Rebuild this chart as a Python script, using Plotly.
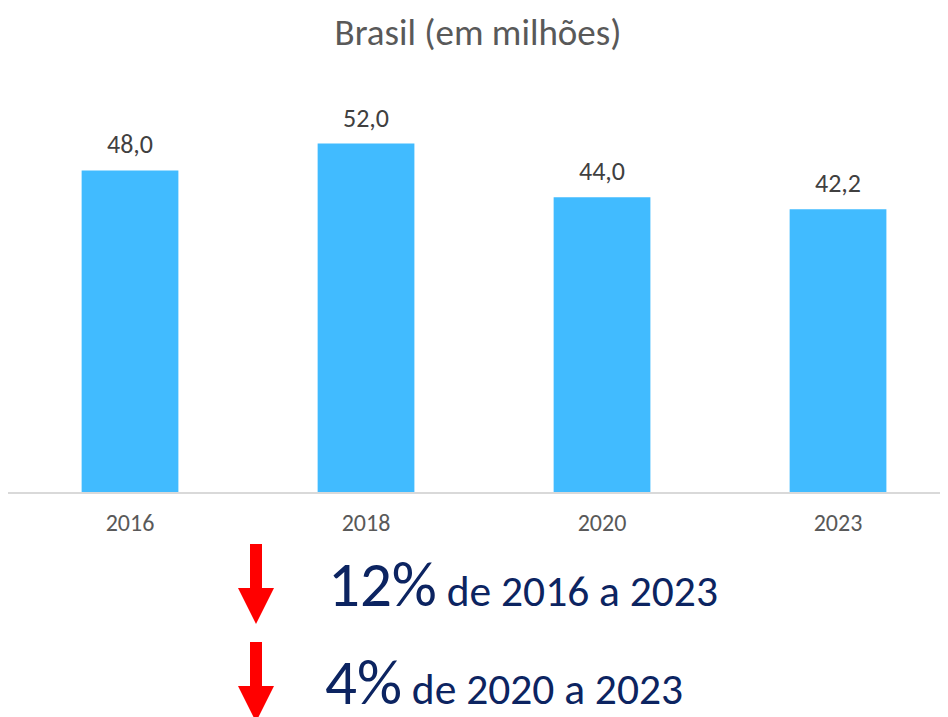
import plotly.graph_objects as go

# data
anos = ["2016", "2018", "2020", "2023"]
valores = [48.0, 52.0, 44.0, 42.2]
quedas = ["12%", "4%"]
periodos = ["de 2016 a 2023", "de 2020 a 2023"]

FONT = "Carlito, Calibri, Lato, sans-serif"
OFF = 8  # page body margin
W, H = 948 - OFF, 717 - OFF
ML, MR, MT, MB = 0, 0, 82, 225


def px_x(p):
    # page pixel -> paper coordinate
    return (p - OFF - ML) / (W - ML - MR)


def px_y(p):
    return (H - MB - (p - OFF)) / (H - MT - MB)


fig = go.Figure()

fig.add_trace(go.Bar(
    x=anos,
    y=valores,
    width=0.41,
    marker=dict(color="#41BBFF", line=dict(width=0)),
    hoverinfo="skip",
))

# value labels above bars
for i, v in enumerate(valores):
    fig.add_annotation(
        x=i, y=v, text=f"{v:.1f}".replace(".", ","),
        showarrow=False, yanchor="bottom", yshift=8,
        font=dict(family=FONT, size=26, color="#404040"),
    )

# red down arrows
arrow_tops = [544, 642]
for top in arrow_tops:
    s0, s1 = top, top + 44
    tip = top + 80
    path = (f"M {px_x(250)} {px_y(s0)} L {px_x(262)} {px_y(s0)} "
            f"L {px_x(262)} {px_y(s1)} L {px_x(274)} {px_y(s1)} "
            f"L {px_x(256)} {px_y(tip)} L {px_x(238)} {px_y(s1)} "
            f"L {px_x(250)} {px_y(s1)} Z")
    fig.add_shape(type="path", path=path, xref="paper", yref="paper",
                  fillcolor="#FF0000", line=dict(width=0), layer="above")

# variation text
text_pos = [(326, 584), (323, 682)]
for (x0, yc), q, per in zip(text_pos, quedas, periodos):
    fig.add_annotation(
        xref="paper", yref="paper", x=px_x(x0), y=px_y(yc),
        xanchor="left", yanchor="middle", showarrow=False,
        text=f"<span style='font-size:63px'>{q}</span> {per}",
        font=dict(family=FONT, size=43.5, color="#0C2461"),
    )

fig.update_layout(
    width=W, height=H,
    margin=dict(l=ML, r=MR, t=MT, b=MB),
    plot_bgcolor="white", paper_bgcolor="white",
    showlegend=False,
    title=dict(
        text="Brasil (em milhões)",
        x=0.5, xanchor="center", y=1 - (32 - OFF) / H, yanchor="middle",
        font=dict(family=FONT, size=37, color="#595959"),
    ),
    xaxis=dict(
        type="category",
        range=[-0.517, 3.466],
        showline=True, linecolor="#D9D9D9", linewidth=2,
        showgrid=False, ticks="", ticklabelstandoff=8,
        tickfont=dict(family=FONT, size=24, color="#595959"),
    ),
    yaxis=dict(
        range=[0, 60],
        visible=False, showgrid=False, zeroline=False,
    ),
)

fig.write_html("out.html")
